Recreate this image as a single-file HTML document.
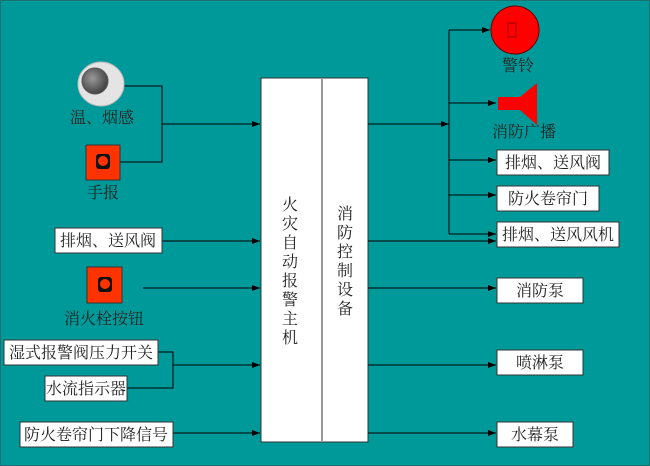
<!DOCTYPE html>
<html><head><meta charset="utf-8"><style>
html,body{margin:0;padding:0;background:#009999;}
svg{display:block}
text{font-family:"Liberation Serif","Noto Serif CJK SC","Noto Sans CJK SC",serif;font-size:16px;fill:#222;}
</style></head><body>
<svg width="650" height="466" viewBox="0 0 650 466">
<defs>
<marker id="a" markerWidth="8" markerHeight="6" refX="8" refY="3" orient="auto" markerUnits="userSpaceOnUse"><path d="M0,0 L8,3 L0,6z" fill="#000"/></marker>
<radialGradient id="g" cx="0.4" cy="0.4" r="0.6"><stop offset="0" stop-color="#999"/><stop offset="1" stop-color="#444"/></radialGradient>
</defs>
<rect x="0" y="0" width="650" height="466" fill="#009999"/>
<rect x="0.5" y="0.5" width="649" height="465" fill="none" stroke="#1a6f6f"/>
<!-- main box -->
<rect x="261" y="78" width="107" height="364" fill="#fff" stroke="#333"/>
<line x1="322" y1="78" x2="322" y2="442" stroke="#999" stroke-width="2"/>
<g text-anchor="middle">
<text x="290" y="210">火</text><text x="290" y="229">灾</text><text x="290" y="248">自</text><text x="290" y="267">动</text><text x="290" y="286">报</text><text x="290" y="305">警</text><text x="290" y="324">主</text><text x="290" y="343">机</text>
<text x="345" y="219">消</text><text x="345" y="238">防</text><text x="345" y="257">控</text><text x="345" y="276">制</text><text x="345" y="295">设</text><text x="345" y="314">备</text>
</g>
<g stroke="#000" stroke-width="1" fill="none">
<!-- left -->
<polyline points="118,86 162,86 162,162 120,162"/>
<line x1="162" y1="124" x2="260" y2="124" marker-end="url(#a)"/>
<line x1="162" y1="241" x2="260" y2="241" marker-end="url(#a)"/>
<line x1="143" y1="288" x2="260" y2="288" marker-end="url(#a)"/>
<polyline points="158,352 173,352 173,388 127,388"/>
<line x1="173" y1="365" x2="260" y2="365" marker-end="url(#a)"/>
<line x1="173" y1="433" x2="260" y2="433" marker-end="url(#a)"/>
<!-- right -->
<line x1="368" y1="124" x2="449" y2="124" marker-end="url(#a)"/>
<line x1="449" y1="30" x2="449" y2="234"/>
<line x1="449" y1="30" x2="490" y2="30" marker-end="url(#a)"/>
<line x1="449" y1="103" x2="496" y2="103" marker-end="url(#a)"/>
<line x1="449" y1="160" x2="496" y2="160" marker-end="url(#a)"/>
<line x1="449" y1="195" x2="496" y2="195" marker-end="url(#a)"/>
<line x1="449" y1="234" x2="496" y2="234" marker-end="url(#a)"/>
<line x1="368" y1="241" x2="496" y2="241" marker-end="url(#a)"/>
<line x1="368" y1="288" x2="496" y2="288" marker-end="url(#a)"/>
<line x1="368" y1="365" x2="496" y2="365" marker-end="url(#a)"/>
<line x1="368" y1="433" x2="496" y2="433" marker-end="url(#a)"/>
</g>
<!-- detector -->
<ellipse cx="101" cy="84" rx="23" ry="22" fill="#e4e4e4" stroke="#bbb"/>
<circle cx="95" cy="81" r="13" fill="url(#g)" stroke="#555"/>
<text x="102" y="123" text-anchor="middle">温、烟感</text>
<!-- hand button -->
<rect x="86" y="145" width="34" height="35" fill="#ff3300" stroke="#333"/>
<rect x="96" y="154" width="14" height="15" rx="3" fill="#111"/><circle cx="103" cy="161" r="5" fill="#ff3300"/>
<text x="103" y="198" text-anchor="middle">手报</text>
<!-- left boxes -->
<rect x="55" y="228" width="107" height="25" fill="#fff" stroke="#333"/>
<text x="108" y="246" text-anchor="middle">排烟、送风阀</text>
<rect x="87" y="267" width="35" height="36" fill="#ff3300" stroke="#333"/>
<rect x="98" y="277" width="14" height="15" rx="3" fill="#111"/><circle cx="105" cy="284" r="5" fill="#ff3300"/>
<text x="104" y="324" text-anchor="middle">消火栓按钮</text>
<rect x="4" y="340" width="154" height="25" fill="#fff" stroke="#333"/>
<text x="81" y="358" text-anchor="middle">湿式报警阀压力开关</text>
<rect x="45" y="376" width="82" height="25" fill="#fff" stroke="#333"/>
<text x="86" y="394" text-anchor="middle">水流指示器</text>
<rect x="20" y="422" width="153" height="25" fill="#fff" stroke="#333"/>
<text x="96" y="440" text-anchor="middle">防火卷帘门下降信号</text>
<!-- bell -->
<circle cx="515" cy="30" r="24" fill="#ff0000" stroke="#600"/>
<rect x="508" y="23" width="8" height="14" fill="none" stroke="#900"/>
<text x="518" y="71" text-anchor="middle">警铃</text>
<!-- speaker -->
<polygon points="498,97 520,97 537,83 537,125 520,110 498,110" fill="#ff0000"/>
<text x="524" y="137" text-anchor="middle">消防广播</text>
<!-- right boxes -->
<rect x="497" y="150" width="112" height="25" fill="#fff" stroke="#333"/>
<text x="553" y="168" text-anchor="middle">排烟、送风阀</text>
<rect x="497" y="186" width="102" height="25" fill="#fff" stroke="#333"/>
<text x="548" y="204" text-anchor="middle">防火卷帘门</text>
<rect x="497" y="222" width="122" height="25" fill="#fff" stroke="#333"/>
<text x="558" y="240" text-anchor="middle">排烟、送风风机</text>
<rect x="497" y="278" width="86" height="25" fill="#fff" stroke="#333"/>
<text x="540" y="296" text-anchor="middle">消防泵</text>
<rect x="497" y="350" width="86" height="25" fill="#fff" stroke="#333"/>
<text x="540" y="368" text-anchor="middle">喷淋泵</text>
<rect x="497" y="422" width="76" height="25" fill="#fff" stroke="#333"/>
<text x="535" y="440" text-anchor="middle">水幕泵</text>
</svg>
</body></html>
